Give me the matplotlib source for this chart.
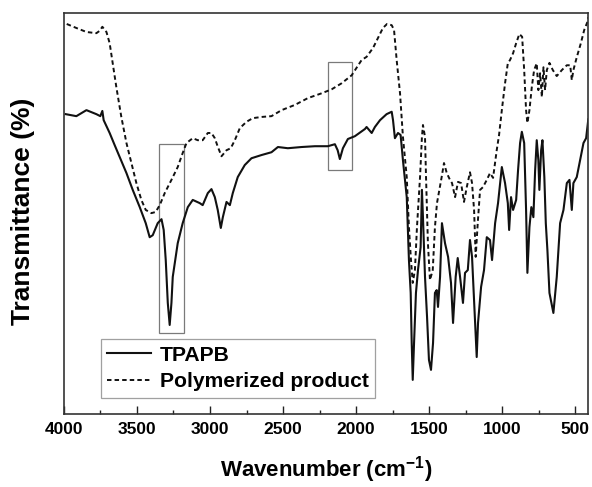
import matplotlib
matplotlib.use("Agg")
import matplotlib.pyplot as plt
from matplotlib.patches import Rectangle

plt.rcParams['font.family'] = ['Liberation Sans', 'DejaVu Sans']
plt.rcParams['font.weight'] = 'bold'
plt.rcParams['mathtext.fontset'] = 'custom'
plt.rcParams['mathtext.rm'] = 'Liberation Sans:bold'
plt.rcParams['mathtext.bf'] = 'Liberation Sans:bold'
plt.rcParams['mathtext.default'] = 'rm'

# TPAPB spectrum (wavenumber cm-1, transmittance, arbitrary %)
wn_tpapb = [3988, 3915, 3846, 3778, 3751, 3737, 3728, 3687, 3653, 3618, 3572, 3529, 3481, 3440,
            3413, 3392, 3358, 3332, 3317, 3303, 3289, 3276, 3264, 3255, 3221, 3187, 3152, 3118,
            3070, 3050, 3015, 2990, 2967, 2947, 2926, 2912, 2887, 2864, 2844, 2810, 2762, 2716,
            2647, 2579, 2535, 2467, 2373, 2282, 2193, 2145, 2126, 2111, 2090, 2056, 2008, 1939,
            1928, 1893, 1871, 1836, 1791, 1756, 1747, 1734, 1713, 1695, 1679, 1653, 1638, 1626,
            1619, 1612, 1603, 1590, 1576, 1558, 1549, 1542, 1528, 1514, 1501, 1487, 1473, 1460,
            1448, 1439, 1425, 1412, 1391, 1370, 1350, 1336, 1318, 1304, 1288, 1268, 1254, 1235,
            1220, 1206, 1192, 1174, 1165, 1144, 1124, 1105, 1083, 1069, 1048, 1028, 1002, 980,
            961, 952, 939, 925, 904, 891, 877, 865, 849, 836, 827, 813, 800, 786, 774, 763, 752,
            745, 733, 724, 711, 701, 690, 676, 649, 626, 603, 580, 557, 539, 523, 512, 489, 466,
            443, 425, 410]
tr_tpapb = [74.8, 74.3, 75.8, 74.8, 74.3, 75.6, 73.3, 70.1, 67.1, 64.1, 60.1, 55.9, 51.6, 47.6,
            44.1, 44.6, 47.6, 48.6, 45.9, 38.4, 27.7, 22.2, 27.7, 34.2, 42.6, 47.6, 51.6, 53.4,
            52.6, 52.1, 55.1, 56.1, 54.1, 50.9, 46.4, 49.1, 52.9, 52.1, 55.1, 59.1, 62.1, 63.8,
            64.6, 65.3, 66.6, 66.3, 66.6, 66.8, 66.8, 67.3, 65.8, 63.6, 66.3, 68.6, 69.3, 71.1,
            71.6, 70.1, 71.6, 73.3, 74.8, 75.4, 73.3, 68.8, 70.1, 69.6, 63.3, 54.1, 38.4, 30.2,
            17.7, 8.5, 17.7, 30.2, 35.9, 41.6, 55.9, 49.1, 34.2, 24.2, 13.5, 11.0, 17.7, 30.2,
            30.9, 26.7, 34.2, 47.6, 42.6, 39.2, 32.7, 22.7, 34.2, 38.9, 34.2, 27.7, 35.2, 35.9,
            43.4, 39.2, 28.4, 14.2, 22.7, 31.7, 35.9, 44.1, 43.4, 38.4, 47.6, 52.6, 61.6, 57.6,
            52.6, 45.9, 54.1, 50.9, 53.4, 60.8, 67.6, 70.4, 67.6, 50.9, 35.2, 46.6, 51.6, 49.1,
            60.8, 68.3, 63.3, 55.9, 65.8, 68.3, 59.1, 47.6, 40.9, 30.2, 25.2, 34.2, 47.6, 50.9,
            57.6, 58.4, 50.9, 57.6, 59.1, 63.3, 67.6, 68.8, 73.5]

# Polymerized product spectrum
wn_poly = [3981, 3915, 3846, 3778, 3755, 3737, 3709, 3687, 3666, 3641, 3607, 3572, 3538, 3504,
           3470, 3440, 3401, 3372, 3344, 3310, 3264, 3221, 3187, 3161, 3118, 3084, 3050, 3015,
           2990, 2967, 2947, 2921, 2887, 2858, 2830, 2796, 2750, 2707, 2647, 2579, 2510, 2419,
           2330, 2236, 2167, 2099, 2030, 1962, 1928, 1884, 1850, 1816, 1788, 1756, 1740, 1722,
           1699, 1679, 1653, 1638, 1624, 1612, 1597, 1583, 1562, 1549, 1542, 1528, 1521, 1508,
           1494, 1475, 1460, 1446, 1414, 1398, 1379, 1357, 1343, 1322, 1302, 1281, 1261, 1242,
           1220, 1206, 1192, 1181, 1167, 1151, 1131, 1105, 1083, 1062, 1037, 1021, 1002, 980,
           961, 946, 925, 904, 882, 863, 849, 836, 827, 813, 797, 781, 763, 752, 740, 728, 717,
           706, 694, 676, 653, 626, 591, 557, 534, 523, 512, 489, 461, 438, 416, 410]
tr_poly = [97.3, 96.3, 95.3, 95.0, 95.6, 96.6, 95.3, 92.5, 87.5, 81.5, 74.1, 67.6, 62.6, 57.6,
           53.4, 50.9, 50.1, 50.4, 52.1, 55.1, 58.4, 61.6, 65.1, 67.6, 68.8, 68.3, 68.3, 70.1,
           70.1, 68.8, 66.7, 64.3, 65.8, 66.3, 68.3, 71.3, 72.9, 73.8, 74.1, 74.3, 75.8, 77.1,
           78.8, 80.0, 81.0, 82.5, 84.5, 88.3, 89.1, 91.3, 93.8, 96.3, 97.3, 97.0, 95.8, 88.3,
           80.0, 69.1, 59.1, 46.6, 38.4, 32.7, 35.9, 46.6, 59.1, 69.1, 72.1, 69.1, 59.1, 42.6,
           33.4, 35.9, 46.6, 52.6, 59.1, 62.6, 60.1, 58.4, 57.6, 54.1, 57.9, 57.6, 52.9, 56.6,
           60.3, 57.6, 50.9, 39.2, 47.6, 55.9, 56.6, 58.4, 60.1, 58.9, 65.8, 69.6, 75.8, 82.5,
           87.5, 88.3, 90.0, 92.5, 94.8, 94.1, 85.8, 75.8, 72.6, 75.8, 81.5, 85.8, 87.5, 80.8,
           85.0, 79.1, 86.5, 80.8, 85.8, 87.6, 85.8, 84.3, 85.8, 87.0, 87.0, 83.3, 85.8, 89.0,
           92.5, 95.8, 97.8, 99.0]

# highlighted regions (wavenumber range, transmittance range)
box_wn = [(3351, 3178), (2191, 2030)]
box_tr = [(20.3, 67.3), (60.8, 87.7)]

labels = ['TPAPB', 'Polymerized product']
xticks = [4000, 3500, 3000, 2500, 2000, 1500, 1000, 500]

fig = plt.figure(figsize=(5.92, 4.87), dpi=100)
ax = fig.add_axes([0.108, 0.150, 0.886, 0.823])

line_col = '#111111'
ax.plot(wn_tpapb, tr_tpapb, color=line_col, lw=1.5, ls='-', label=labels[0])
ax.plot(wn_poly, tr_poly, color=line_col, lw=1.4, ls=(0, (2.3, 1.6)), label=labels[1])

for (w1, w2), (t1, t2) in zip(box_wn, box_tr):
    ax.add_patch(Rectangle((w2, t1), w1 - w2, t2 - t1, fill=False,
                           edgecolor='#7a7a7a', lw=0.9))

ax.set_xlim(4000, 409)
ax.set_ylim(0, 100)
ax.set_xticks(xticks)
ax.set_xticks([3750, 3250, 2750, 2250, 1750, 1250, 750], minor=True)
ax.set_yticks([])
ax.tick_params(axis='x', which='major', direction='in', length=6, width=1.0,
               labelsize=12.5, pad=6, colors='#222222', labelcolor='black')
ax.tick_params(axis='x', which='minor', direction='in', length=3, width=1.0, colors='#222222')
for lab in ax.get_xticklabels():
    lab.set_fontweight('bold')
for sp in ax.spines.values():
    sp.set_color('#333333')
    sp.set_linewidth(1.2)

ax.set_xlabel('Wavenumber (cm$^{-1}$)', fontsize=16, fontweight='bold', labelpad=12)
ax.set_ylabel('Transmittance (%)', fontsize=19, fontweight='bold')
ax.yaxis.set_label_coords(-0.056, 0.505)

leg = ax.legend(loc='lower left', bbox_to_anchor=(0.070, 0.041), borderaxespad=0,
                fontsize=15.2, frameon=True, fancybox=False, edgecolor='#888888',
                handlelength=2.1, handletextpad=0.4, labelspacing=0.35, borderpad=0.3)
leg.get_frame().set_linewidth(0.9)
for t in leg.get_texts():
    t.set_fontweight('bold')

fig.savefig('out.png', dpi=100)
